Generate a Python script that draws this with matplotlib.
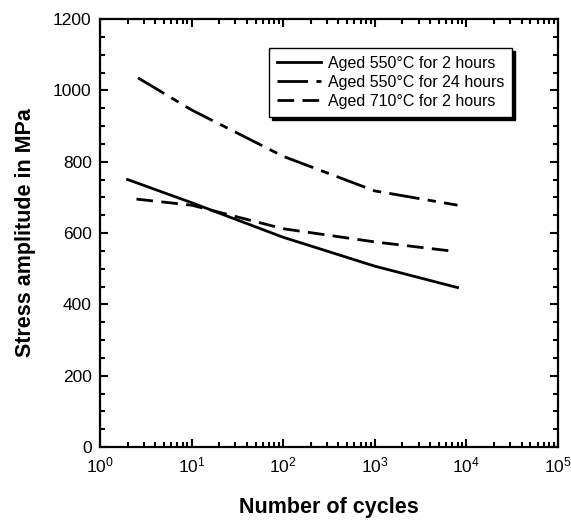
import matplotlib
matplotlib.use("Agg")
from matplotlib import pyplot as plt
from matplotlib.ticker import LogLocator, MultipleLocator, LogFormatterMathtext, NullFormatter

plt.rcParams['font.family'] = ['Liberation Sans', 'DejaVu Sans']
plt.rcParams['mathtext.default'] = 'regular'

# data
cycles_550_2h = [2, 10, 100, 1000, 8000]
stress_550_2h = [750, 685, 588, 507, 447]

cycles_550_24h = [2.6, 10, 100, 1000, 8000]
stress_550_24h = [1035, 945, 815, 718, 678]

cycles_710_2h = [2.5, 10, 100, 1000, 6600]
stress_710_2h = [695, 678, 612, 575, 550]

labels = ["Aged 550°C for 2 hours", "Aged 550°C for 24 hours", "Aged 710°C for 2 hours"]

fig = plt.figure(figsize=(5.71, 5.22), dpi=100)
ax = fig.add_axes([100 / 571, 1 - 447 / 522, 458 / 571, 428 / 522])

ax.plot(cycles_550_2h, stress_550_2h, color="black", lw=2, label=labels[0])
ax.plot(cycles_550_24h, stress_550_24h, color="black", lw=2, label=labels[1],
        dashes=(11, 3, 3, 3))
ax.plot(cycles_710_2h, stress_710_2h, color="black", lw=2, label=labels[2],
        dashes=(6, 3))

ax.set_xscale("log")
ax.set_xlim(1, 1e5)
ax.set_ylim(0, 1200)

ax.xaxis.set_major_locator(LogLocator(base=10, numticks=10))
ax.xaxis.set_minor_locator(LogLocator(base=10, subs=range(2, 10), numticks=20))
ax.xaxis.set_major_formatter(LogFormatterMathtext())
ax.xaxis.set_minor_formatter(NullFormatter())
ax.yaxis.set_major_locator(MultipleLocator(200))
ax.yaxis.set_minor_locator(MultipleLocator(50))

ax.tick_params(which="both", direction="in", top=True, right=True, labelsize=12.5, width=1.5)
ax.tick_params(which="major", length=6, pad=6)
ax.tick_params(which="minor", length=3.5)
for s in ax.spines.values():
    s.set_linewidth(1.6)

ax.set_xlabel("Number of cycles", fontsize=15.5, fontweight="bold", labelpad=16)
ax.set_ylabel("Stress amplitude in MPa", fontsize=15.5, fontweight="bold", labelpad=12)

leg = ax.legend(loc="upper right", bbox_to_anchor=(0.90, 0.932), borderaxespad=0,
                fontsize=11.5, fancybox=False, shadow={'color': 'black', 'alpha': 1},
                framealpha=1, edgecolor="black", handlelength=2.8, borderpad=0.5,
                labelspacing=0.25, handletextpad=0.4)
leg.get_frame().set_linewidth(1.0)

fig.savefig("out.png", dpi=100)
